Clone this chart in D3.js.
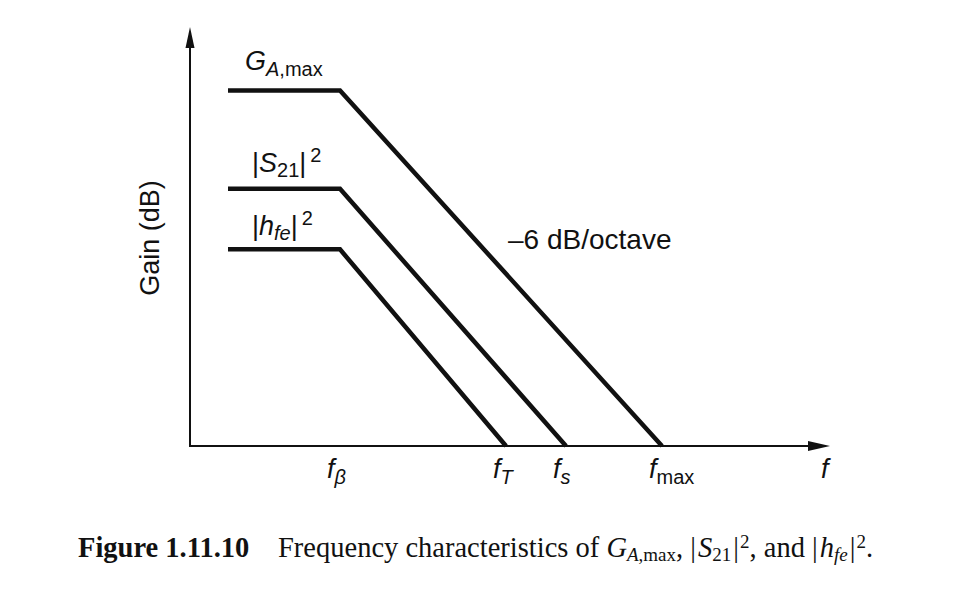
<!DOCTYPE html>
<html>
<head>
<meta charset="utf-8">
<script src="https://cdn.jsdelivr.net/npm/d3@7"></script>
<style>
  body { margin: 0; background: #fff; }
  svg text { fill: #111; }
  .sans  { font-family: 'Liberation Sans', Arial, sans-serif; }
  .serif { font-family: 'Liberation Serif', 'Times New Roman', serif; }
</style>
</head>
<body>
<svg id="fig" width="975" height="612"></svg>
<script>
'use strict';

// schematic: frequency in octaves, gain in dB
const curveNames   = ['GA', 'S21', 'hfe']
const flatStart    = 0.95            // octave where the drawn plateaus begin
const cornerFreq   = 3.75            // f_beta, all three curves break here
const lowFreqGain  = [47, 34, 26]    // dB plateau of each curve
const crossFreq    = [11.8, 9.4, 7.9] // octave where each curve hits 0 dB
const tickFreq     = [3.75, 7.9, 9.4, 11.8, 16.1]
const tickMain     = ['f', 'f', 'f', 'f', 'f']
const tickSub      = ['β', 'T', 's', 'max', '']

const svg = d3.select('#fig')
const x = d3.scaleLinear().domain([0, 16]).range([190, 830])
const y = d3.scaleLinear().domain([0, 55]).range([446, 30])

// axes with arrow heads
svg.append('line')
  .attr('x1', x(0)).attr('y1', y(0) + 1)
  .attr('x2', x(0)).attr('y2', y(55) + 8)
  .attr('stroke', '#111').attr('stroke-width', 2)
svg.append('path')
  .attr('d', `M${x(0)},${y(55) - 3} L${x(0) - 4.5},${y(55) + 18} L${x(0) + 4.5},${y(55) + 18} Z`)
  .attr('fill', '#111')

svg.append('line')
  .attr('x1', x(0)).attr('y1', y(0))
  .attr('x2', x(16) - 10).attr('y2', y(0))
  .attr('stroke', '#111').attr('stroke-width', 2)
svg.append('path')
  .attr('d', `M${x(16)},${y(0)} L${x(16) - 22},${y(0) - 5} L${x(16) - 22},${y(0) + 5} Z`)
  .attr('fill', '#111')

// the three gain curves
const line = d3.line().x((d) => x(d[0])).y((d) => y(d[1]))
const curves = curveNames.map((name, i) => ({
  name: name,
  pts: [[flatStart, lowFreqGain[i]], [cornerFreq, lowFreqGain[i]], [crossFreq[i], 0]]
}))

svg.selectAll('path.curve')
  .data(curves)
  .enter()
  .append('path')
    .attr('class', 'curve')
    .attr('d', (c) => line(c.pts))
    .attr('fill', 'none')
    .attr('stroke', '#111')
    .attr('stroke-width', 4.5)
    .attr('stroke-linejoin', 'miter')

// curve labels
const lbl = (xp, yp) => svg.append('text').attr('class', 'sans').attr('x', xp).attr('y', yp).attr('font-size', 27)

let t = lbl(245, 70)
t.append('tspan').attr('font-style', 'italic').text('G')
t.append('tspan').attr('font-style', 'italic').attr('font-size', 20).attr('dy', 6).text('A')
t.append('tspan').attr('font-size', 20).text(',max')

t = lbl(252, 172)
t.append('tspan').text('|')
t.append('tspan').attr('font-style', 'italic').text('S')
t.append('tspan').attr('font-size', 20).attr('dy', 5).text('21')
t.append('tspan').attr('dy', -5).text('|')
t.append('tspan').attr('font-size', 20).attr('dx', 4).attr('dy', -10).text('2')

t = lbl(252, 235)
t.append('tspan').text('|')
t.append('tspan').attr('font-style', 'italic').text('h')
t.append('tspan').attr('font-style', 'italic').attr('font-size', 20).attr('dy', 5).text('fe')
t.append('tspan').attr('dy', -5).text('|')
t.append('tspan').attr('font-size', 20).attr('dx', 4).attr('dy', -10).text('2')

lbl(508, 249).attr('font-size', 28).text('\u20136 dB/octave')

svg.append('text')
  .attr('class', 'sans')
  .attr('transform', `translate(159,${y(27.5)}) rotate(-90)`)
  .attr('text-anchor', 'middle')
  .attr('font-size', 27)
  .text('Gain (dB)')

// frequency labels under the axis
const ticks = svg.selectAll('text.tick')
  .data(tickFreq.map((f, i) => ({ f: f, main: tickMain[i], sub: tickSub[i] })))
  .enter()
  .append('text')
    .attr('class', 'tick sans')
    .attr('x', (d) => x(d.f) - 13)
    .attr('y', 478)
    .attr('font-size', 27)
ticks.append('tspan').attr('font-style', 'italic').text((d) => d.main)
ticks.append('tspan')
  .attr('font-style', (d) => d.sub === 'max' ? 'normal' : 'italic')
  .attr('font-size', 20).attr('dy', 6)
  .text((d) => d.sub)

// caption
const cap = svg.append('text').attr('class', 'serif').attr('y', 557).attr('font-size', 28.5)
cap.append('tspan').attr('x', 78).attr('font-weight', 'bold').text('Figure 1.11.10')
cap.append('tspan').attr('x', 278).text('Frequency characteristics of ')
cap.append('tspan').attr('font-style', 'italic').text('G')
cap.append('tspan').attr('font-style', 'italic').attr('font-size', 19).attr('dy', 4).text('A')
cap.append('tspan').attr('font-size', 19).text(',max')
cap.append('tspan').attr('dy', -4).text(', |')
cap.append('tspan').attr('font-style', 'italic').attr('dx', 2).text('S')
cap.append('tspan').attr('font-size', 19).attr('dy', 4).text('21')
cap.append('tspan').attr('dx', 2).attr('dy', -4).text('|')
cap.append('tspan').attr('font-size', 19).attr('dx', 1).attr('dy', -9).text('2')
cap.append('tspan').attr('dy', 9).text(', and |')
cap.append('tspan').attr('font-style', 'italic').attr('dx', 2).text('h')
cap.append('tspan').attr('font-style', 'italic').attr('font-size', 19).attr('dy', 4).text('fe')
cap.append('tspan').attr('dx', 2).attr('dy', -4).text('|')
cap.append('tspan').attr('font-size', 19).attr('dx', 1).attr('dy', -9).text('2')
cap.append('tspan').attr('dy', 9).text('.')
</script>
</body>
</html>
